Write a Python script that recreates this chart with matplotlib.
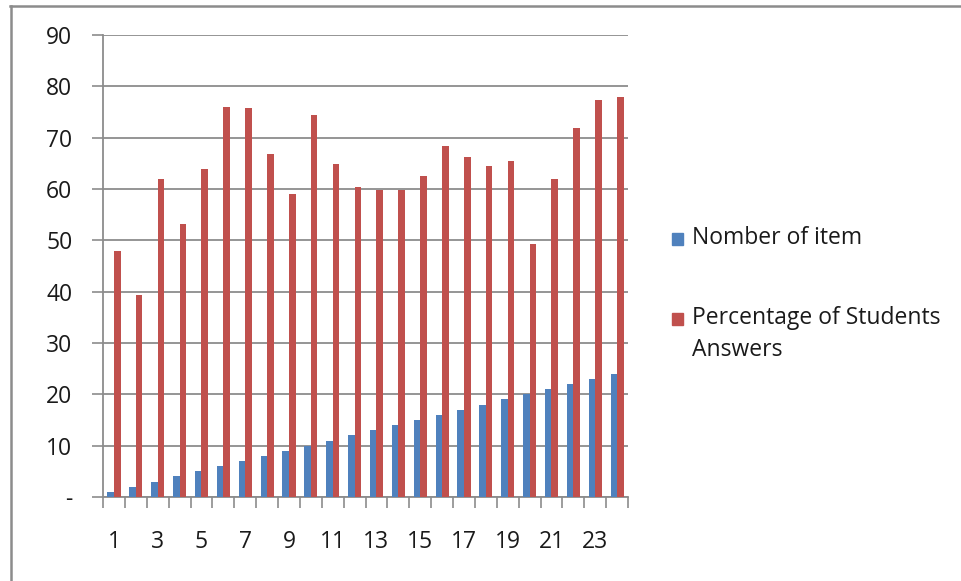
import numpy as np
import matplotlib
matplotlib.use("Agg")
import matplotlib.pyplot as plt
from matplotlib.lines import Line2D
from matplotlib.patches import Rectangle

items = list(range(1, 25))
nomber_of_item = [1, 2, 3, 4, 5, 6, 7, 8, 9, 10, 11, 12,
                  13, 14, 15, 16, 17, 18, 19, 20, 21, 22, 23, 24]
pct_answers = [48, 39.3, 61.9, 53.2, 63.9, 76, 75.7, 66.9, 59.1, 74.4, 64.9, 60.4,
               59.9, 59.9, 62.6, 68.4, 66.2, 64.4, 65.4, 49.2, 61.9, 71.9, 77.4, 77.9]
series_names = ["Nomber of item", "Percentage of Students\nAnswers"]
y_ticks = [0, 10, 20, 30, 40, 50, 60, 70, 80, 90]
y_ticklabels = ["-", "10", "20", "30", "40", "50", "60", "70", "80", "90"]

BLUE = "#4F81BD"
RED = "#C0504D"
GREY = "#8C8C8C"
TXT = "#1a1a1a"
FS = 16.5
plt.rcParams["font.family"] = ["Open Sans", "DejaVu Sans"]

fig = plt.figure(figsize=(9.61, 5.81), dpi=100)
ax = fig.add_axes([103 / 961, 1 - 497 / 581, 525 / 961, 462 / 581])

x = np.array(items)
w = 0.3
ax.bar(x - w / 2, nomber_of_item, width=w, color=BLUE, zorder=3)
ax.bar(x + w / 2, pct_answers, width=w, color=RED, zorder=3)

ax.set_xlim(0.5, 24.5)
ax.set_ylim(0, 90)
ax.set_yticks(y_ticks)
ax.set_yticklabels(y_ticklabels)
ax.yaxis.grid(True, color=GREY, linewidth=1.3, zorder=0)

ax.set_xticks(x[::2])
ax.set_xticklabels([str(i) for i in items[::2]])
ax.set_xticks(np.arange(0.5, 25, 1), minor=True)
ax.tick_params(axis="x", which="major", length=0, pad=24, labelsize=FS, colors=TXT)
ax.tick_params(axis="x", which="minor", length=8, width=1.2, color=GREY)
ax.tick_params(axis="y", length=8, width=1.2, color=GREY, pad=14, labelsize=FS,
               labelcolor=TXT)

for s in ["top", "right"]:
    ax.spines[s].set_visible(False)
for s in ["left", "bottom"]:
    ax.spines[s].set_color(GREY)
    ax.spines[s].set_linewidth(1.3)

# legend drawn beside the plot
leg_y = [239, 319]
for name, col, yy in zip(series_names, [BLUE, RED], leg_y):
    fig.patches.append(Rectangle((672 / 961, 1 - (yy + 6) / 581), 11 / 961, 12 / 581,
                                 transform=fig.transFigure, color=col))
    fig.text(692 / 961, 1 - (yy - 13) / 581, name, fontsize=FS, va="top", ha="left",
             color=TXT, linespacing=1.45)

# outer frame
fig.add_artist(Line2D([10.5 / 961, 10.5 / 961], [0, 1 - 6 / 581], transform=fig.transFigure,
                      color=GREY, linewidth=1.8))
fig.add_artist(Line2D([10 / 961, 1], [1 - 6 / 581, 1 - 6 / 581], transform=fig.transFigure,
                      color=GREY, linewidth=1.8))

fig.savefig("out.png", dpi=100)
